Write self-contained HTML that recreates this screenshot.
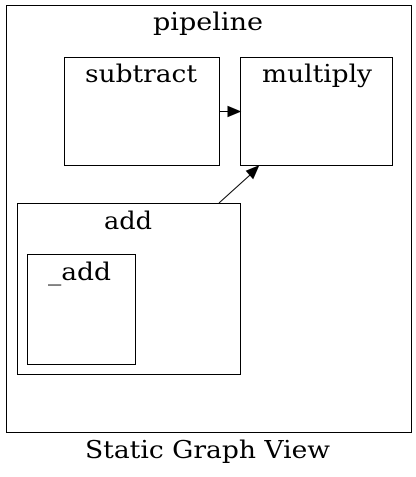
<!DOCTYPE html>
<html><head><style>html,body{margin:0;padding:0;background:#fff;}svg{display:block}</style></head>
<body>
<svg width="416" height="477" viewBox="0 0 416 477" xmlns="http://www.w3.org/2000/svg" font-family="'DejaVu Serif', serif" fill="none" stroke="#000" stroke-width="1">
<rect x="6.5" y="5.5" width="405" height="427"/>
<g fill="#000" stroke="none" font-size="24.5">
<text x="153" y="30" textLength="110" lengthAdjust="spacingAndGlyphs">pipeline</text>
<text x="85" y="82" textLength="112" lengthAdjust="spacingAndGlyphs">subtract</text>
<text x="262" y="82" textLength="110" lengthAdjust="spacingAndGlyphs">multiply</text>
<text x="104" y="229" textLength="48" lengthAdjust="spacingAndGlyphs">add</text>
<text x="48" y="280" textLength="63" lengthAdjust="spacingAndGlyphs">_add</text>
<text x="85" y="458" textLength="245" lengthAdjust="spacingAndGlyphs">Static Graph View</text>
</g>
<rect x="64.5" y="57.5" width="155" height="108"/>
<rect x="240.5" y="57.5" width="152" height="108"/>
<rect x="17.5" y="203.5" width="223" height="171"/>
<rect x="27.5" y="254.5" width="108" height="110"/>
<line x1="219.5" y1="111.5" x2="228" y2="111.5"/>
<polygon points="228,106.5 240,111.5 228,116.5" fill="#000"/>
<line x1="219" y1="203" x2="250" y2="175"/>
<polygon points="246.5,171 258.5,166 253,178.5" fill="#000"/>
</svg>
</body></html>
